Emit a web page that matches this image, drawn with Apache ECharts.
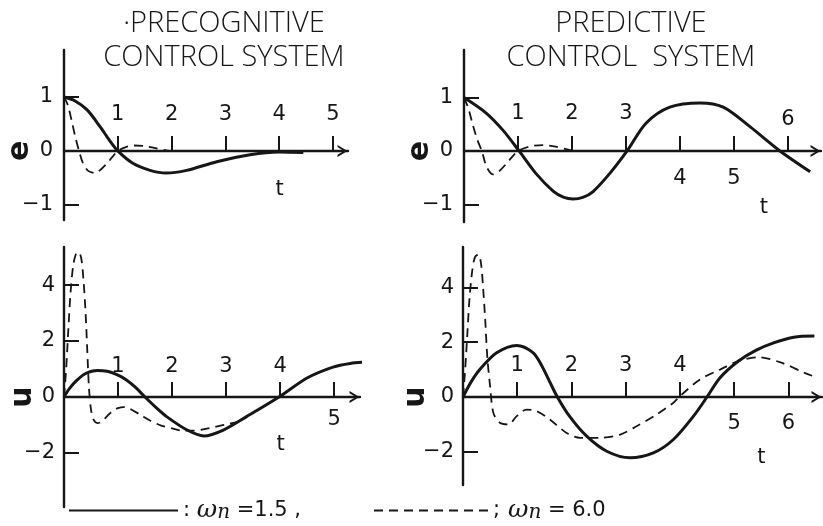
<!DOCTYPE html>
<html>
<head>
<meta charset="utf-8">
<script src="https://cdn.jsdelivr.net/npm/echarts@6/dist/echarts.min.js"></script>
<style>
  html, body { margin: 0; padding: 0; background: #ffffff; }
  #chart { width: 823px; height: 526px; }
</style>
</head>
<body>
<div id="chart"></div>
<script>
// Panel titles
const titleLeft = '·PRECOGNITIVE\nCONTROL SYSTEM';
const titleRight = 'PREDICTIVE\nCONTROL  SYSTEM';

// Error e(t): [t, e]
const ePreSlow = [[0,1],[0.2,0.93],[0.43,0.76],[0.67,0.45],[0.85,0.19],[1.0,0],[1.28,-0.23],[1.6,-0.36],[1.9,-0.41],[2.28,-0.36],[2.84,-0.2],[3.46,-0.07],[4.0,-0.02],[4.45,-0.03]];
const ePreFast = [[0,1],[0.07,0.85],[0.14,0.57],[0.21,0.26],[0.28,0],[0.35,-0.22],[0.45,-0.37],[0.58,-0.41],[0.7,-0.33],[0.8,-0.23],[0.9,-0.11],[1.0,0],[1.15,0.07],[1.3,0.1],[1.5,0.09],[1.7,0.05],[1.95,0]];
const ePredSlow = [[0,1],[0.41,0.71],[0.72,0.39],[1.02,0],[1.33,-0.42],[1.65,-0.75],[1.85,-0.87],[2.02,-0.9],[2.2,-0.87],[2.39,-0.76],[2.7,-0.42],[3.02,0],[3.37,0.52],[3.81,0.82],[4.37,0.9],[4.8,0.82],[5.3,0.45],[5.85,0],[6.41,-0.39]];
const ePredFast = [[0,1],[0.08,0.8],[0.16,0.5],[0.25,0.2],[0.33,0],[0.42,-0.3],[0.54,-0.44],[0.66,-0.37],[0.8,-0.22],[0.9,-0.1],[1.0,0],[1.2,0.08],[1.46,0.11],[1.7,0.08],[2.02,0]];

// Control input u(t): [t, u]
const uPreSlow = [[0,0],[0.1,0.3],[0.24,0.6],[0.4,0.84],[0.61,0.95],[0.8,0.92],[0.98,0.8],[1.15,0.62],[1.32,0.35],[1.5,0],[1.7,-0.37],[1.9,-0.7],[2.28,-1.18],[2.59,-1.39],[2.95,-1.18],[3.38,-0.7],[3.98,0],[4.5,0.68],[4.98,1.07],[5.3,1.2],[5.61,1.25]];
const uPreFast = [[0,0],[0.04,1.0],[0.08,2.4],[0.12,3.7],[0.17,4.7],[0.22,5.1],[0.27,5.18],[0.32,4.95],[0.36,4.2],[0.4,3.0],[0.43,1.7],[0.46,0.4],[0.5,-0.45],[0.55,-0.82],[0.62,-0.93],[0.7,-0.88],[0.8,-0.68],[0.9,-0.5],[1.0,-0.4],[1.1,-0.36],[1.2,-0.4],[1.4,-0.62],[1.6,-0.85],[1.8,-1.02],[2.0,-1.12],[2.2,-1.2],[2.4,-1.2],[2.6,-1.15],[2.8,-1.07],[3.0,-0.98],[3.25,-0.88]];
const uPredSlow = [[0,0],[0.15,0.55],[0.31,1.0],[0.62,1.61],[0.99,1.88],[1.29,1.62],[1.45,1.15],[1.6,0.55],[1.74,0],[1.97,-0.72],[2.28,-1.43],[2.65,-1.98],[3.08,-2.22],[3.51,-2.04],[3.88,-1.55],[4.25,-0.7],[4.5,0],[4.74,0.7],[5.08,1.31],[5.4,1.7],[5.74,1.98],[6.1,2.18],[6.48,2.22]];
const uPredFast = [[0,0],[0.04,1.0],[0.08,2.3],[0.12,3.6],[0.17,4.6],[0.22,5.1],[0.28,5.2],[0.33,4.9],[0.37,4.0],[0.41,2.8],[0.45,1.4],[0.5,0.39],[0.56,-0.58],[0.68,-0.94],[0.84,-1.0],[0.99,-0.7],[1.17,-0.46],[1.36,-0.52],[1.6,-0.82],[1.91,-1.31],[2.16,-1.49],[2.53,-1.49],[2.9,-1.37],[3.2,-1.07],[3.57,-0.64],[3.88,-0.21],[4.0,0.03],[4.37,0.64],[4.74,1.0],[5.08,1.31],[5.45,1.45],[5.87,1.25],[6.3,0.88],[6.54,0.7]];

// Tick marks and tick labels
const eTicksY = [-1, 1];
const eLabelsY = [-1, 0, 1];
const uTicksY = [-2, 2, 4];
const uLabelsY = [-2, 0, 2, 4];
const tlTicksX = [1, 2, 3, 4, 5];
const trTicksX = [1, 2, 3, 4, 5, 6];
const blTicksX = [1, 2, 3, 4, 5];
const brTicksX = [1, 2, 3, 4, 5, 6];
const tlAbove = [1, 2, 3, 4, 5];
const trAbove = [1, 2, 3, 6];
const blAbove = [1, 2, 3, 4];
const brAbove = [1, 2, 3, 4];
const tlBelow = [];
const trBelow = [4, 5];
const blBelow = [5];
const brBelow = [5, 6];

// Legend entries
const legendSlow = { name: 'wn15', text: '{c|: }{w|ω}{n|n}{c| =1.5 ,}' };
const legendFast = { name: 'wn60', text: '{c|;}{w| ω}{n|n}{c| = 6.0}' };

const INK = '#161616';
const FONT = '"DejaVu Sans", sans-serif';
// open arrow head pointing up (the axis rotates it)
const ARROW = 'path://M0,10 L6,0 L12,10 L9.8,10 L6,3.7 L2.2,10 Z';

// label offsets in px from the time axis line: up/low above it, down/tDown below it
const panels = [
  { grid: { left: 64, top: 50, width: 284, height: 170 }, xMax: 5.28, yMin: -1.28, yMax: 1.87,
    ticksX: tlTicksX, above: tlAbove, below: tlBelow, tPos: 4.01, up: 36, low: 36, down: 28, tDown: 39, lowered: [],
    ticksY: eTicksY, labelsY: eLabelsY, yName: 'e', nameMargin: 29, yMargin: 11 },
  { grid: { left: 464, top: 50, width: 357, height: 172 }, xMax: 6.61, yMin: -1.33, yMax: 1.89,
    ticksX: trTicksX, above: trAbove, below: trBelow, tPos: 5.55, up: 37, low: 31, down: 28, tDown: 57, lowered: [6],
    ticksY: eTicksY, labelsY: eLabelsY, yName: 'e', nameMargin: 29, yMargin: 11 },
  { grid: { left: 64, top: 247, width: 296, height: 260 }, xMax: 5.48, yMin: -3.93, yMax: 5.36,
    ticksX: blTicksX, above: blAbove, below: blBelow, tPos: 4.01, up: 30, low: 30, down: 23, tDown: 48, lowered: [],
    ticksY: uTicksY, labelsY: uLabelsY, yName: 'u', nameMargin: 26, yMargin: 9 },
  { grid: { left: 463, top: 247, width: 359, height: 238 }, xMax: 6.62, yMin: -3.21, yMax: 5.47,
    ticksX: brTicksX, above: brAbove, below: brBelow, tPos: 5.5, up: 31, low: 31, down: 27, tDown: 61, lowered: [],
    ticksY: uTicksY, labelsY: uLabelsY, yName: 'u', nameMargin: 32, yMargin: 9 }
];

const labelText = { fontFamily: FONT, fontSize: 21, color: INK };
const minus = v => String(v).replace('-', '\u2212');

const grids = [], xAxes = [], yAxes = [];
panels.forEach((p, i) => {
  grids.push(Object.assign({ outerBoundsMode: 'none', containLabel: false }, p.grid));
  // tick labels are anchored at the grid's lower edge; shift each to its place beside the zero line
  const zeroAbove = p.grid.height * (0 - p.yMin) / (p.yMax - p.yMin);
  const pad = off => {
    const d = off - zeroAbove;
    return d < 0 ? [0, 0, -2 * d, 0] : [2 * d, 0, 0, 0];
  };
  xAxes.push({
    gridIndex: i, type: 'value', min: 0, max: p.xMax, position: 'bottom',
    axisLine: { show: true, onZero: true, lineStyle: { color: INK, width: 2.4 },
      symbol: ['none', ARROW], symbolSize: [12, 11], symbolOffset: [0, -5.5] },
    axisTick: { show: true, inside: true, length: 15, lineStyle: { color: INK, width: 2 }, customValues: p.ticksX },
    axisLabel: {
      show: true, margin: 0, verticalAlign: 'middle',
      customValues: p.above.concat(p.below, [p.tPos]),
      formatter: v => {
        if (v === p.tPos) return '{t|t}';
        if (p.below.indexOf(v) >= 0) return '{b|' + v + '}';
        if (p.lowered.indexOf(v) >= 0) return '{l|' + v + '}';
        return '{a|' + v + '}';
      },
      rich: {
        a: Object.assign({ padding: pad(-p.up) }, labelText),
        l: Object.assign({ padding: pad(-p.low) }, labelText),
        b: Object.assign({ padding: pad(p.down) }, labelText),
        t: Object.assign({ padding: pad(p.tDown) }, labelText)
      }
    },
    splitLine: { show: false }
  });
  yAxes.push({
    gridIndex: i, type: 'value', min: p.yMin, max: p.yMax, position: 'left',
    axisLine: { show: true, onZero: false, lineStyle: { color: INK, width: 2.4 } },
    axisTick: { show: true, inside: true, length: 15, lineStyle: { color: INK, width: 2 }, customValues: p.ticksY },
    axisLabel: Object.assign({ show: true, margin: p.yMargin, customValues: p.labelsY, formatter: minus }, labelText),
    splitLine: { show: false }
  });
  // variable symbol written sideways at the zero level
  yAxes.push({
    gridIndex: i, type: 'value', min: p.yMin, max: p.yMax, position: 'left',
    axisLine: { show: false, onZero: false }, axisTick: { show: false },
    axisLabel: { show: true, margin: p.nameMargin, customValues: [0], rotate: 90,
      formatter: () => p.yName, fontFamily: FONT, fontSize: 30, fontWeight: 'bold', color: INK },
    splitLine: { show: false }
  });
});

const solidStyle = { color: INK, width: 3 };
const dashStyle = { color: INK, width: 1.8, type: [9, 6] };
function curve(name, data, panel, style) {
  return {
    type: 'line', name: name, data: data, xAxisIndex: panel, yAxisIndex: panel * 2,
    symbol: 'none', showSymbol: false, smooth: 0.3, lineStyle: style,
    itemStyle: { color: INK }, silent: true, z: 3
  };
}

const legendRich = {
  c: { fontFamily: FONT, fontSize: 21, color: INK },
  w: { fontFamily: '"DejaVu Serif", serif', fontStyle: 'italic', fontSize: 25, color: INK },
  n: { fontFamily: '"DejaVu Serif", serif', fontStyle: 'italic', fontSize: 20, color: INK, padding: [5, 0, 0, 0] }
};
const legendBase = { top: 498, padding: 0, itemHeight: 24, selectedMode: false,
  itemStyle: { opacity: 0, borderWidth: 0 }, textStyle: { rich: legendRich } };

const titleStyle = { fontFamily: '"Open Sans", "DejaVu Sans", sans-serif', fontSize: 29, fontWeight: 300, color: INK, lineHeight: 34 };

const option = {
  animation: false,
  backgroundColor: '#ffffff',
  title: [
    { text: titleLeft, left: 224, top: 7, padding: 0, textAlign: 'center', textVerticalAlign: 'top', textStyle: titleStyle },
    { text: titleRight, left: 631, top: 7, padding: 0, textAlign: 'center', textVerticalAlign: 'top', textStyle: titleStyle }
  ],
  legend: [
    Object.assign({ data: [legendSlow.name], left: 68, itemWidth: 109, formatter: () => legendSlow.text }, legendBase),
    Object.assign({ data: [legendFast.name], left: 373, itemWidth: 114, formatter: () => legendFast.text }, legendBase)
  ],
  grid: grids,
  xAxis: xAxes,
  yAxis: yAxes,
  series: [
    curve(legendSlow.name, ePreSlow, 0, solidStyle),
    curve(legendFast.name, ePreFast, 0, dashStyle),
    curve(legendSlow.name, ePredSlow, 1, solidStyle),
    curve(legendFast.name, ePredFast, 1, dashStyle),
    curve(legendSlow.name, uPreSlow, 2, solidStyle),
    curve(legendFast.name, uPreFast, 2, dashStyle),
    curve(legendSlow.name, uPredSlow, 3, solidStyle),
    curve(legendFast.name, uPredFast, 3, dashStyle)
  ]
};

const chart = echarts.init(document.getElementById('chart'), null, { renderer: 'canvas' });
chart.setOption(option);
</script>
</body>
</html>
